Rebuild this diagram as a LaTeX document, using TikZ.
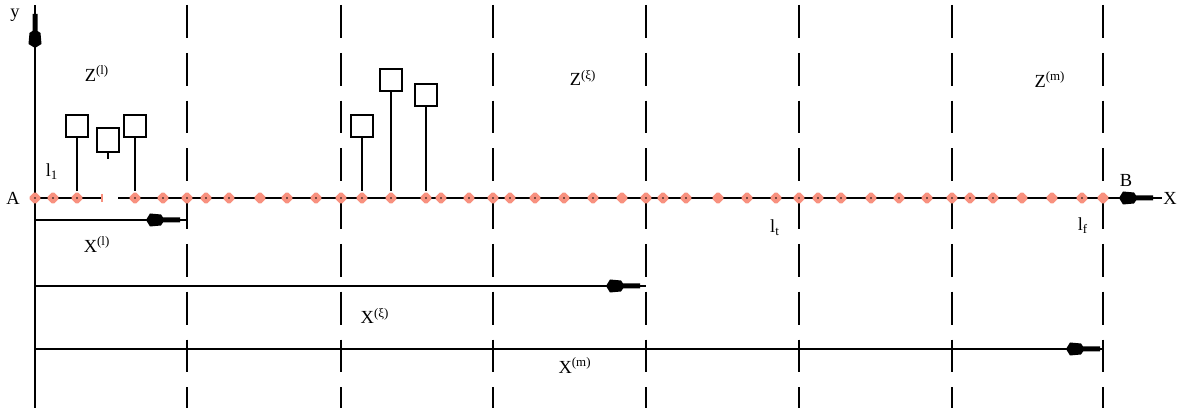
\documentclass[tikz,border=0pt]{standalone}
\usepackage{fontspec}
\setmainfont{Liberation Serif}
\usepackage{xcolor}
\definecolor{ptSalmon}{HTML}{F8917F}
\usetikzlibrary{arrows.meta, positioning, calc, shapes.geometric}
\tikzset{
    gpoint/.style={diamond, fill=ptSalmon, minimum size=7.6pt, inner sep=0pt, rounded corners=1pt},
    gpointdot/.style={gpoint, path picture={\fill[black] (path picture bounding box.center) circle (0.55pt);}},
    stubbox/.style={rectangle, draw, line width=0.9pt, minimum size=12.5pt, inner sep=0pt},
    axisline/.style={line width=0.9pt},
    zoneline/.style={line width=0.9pt, dash pattern=on 18.7pt off 8.5pt},
    lbl/.style={font=\fontsize{10.5}{12}\selectfont, inner sep=1pt},
    bolt/.pic={\fill (0,2.5) -- (-17,2.5) -- (-19,5.5) -- (-30,6.5) -- (-34,0)
                     -- (-30,-6.5) -- (-19,-5.5) -- (-17,-2.5) -- (0,-2.5) -- cycle;},
}

\begin{document}
\begin{tikzpicture}[x=0.02cm, y=-0.02cm]
    \useasboundingbox (0,0) rectangle (1177,408);

    % zone borders
    \foreach \zx in {187,341,493,646,799,952,1103}
        \draw[zoneline] (\zx,5) -- (\zx,408);

    % axes
    \coordinate (A) at (35,198);
    \coordinate (B) at (1103,198);
    \coordinate (yTop) at (35,5);
    \coordinate (yBot) at (35,408);
    \coordinate (xEnd) at (1162,198);
    \coordinate (cutL) at (102,198);
    \coordinate (cutR) at (118,198);
    \draw[axisline] (yBot) -- (yTop);
    \draw[axisline] (A) -- (cutL);
    \draw[axisline] (cutR) -- (B) -- (xEnd);
    \pic[rotate=90] at (35,14) {bolt};
    \pic at (1153,198) {bolt};

    % points on the line
    \foreach \px in {35,53,77,135,163,187,206,229,287,316,341,362,391,426,441,469,
                     493,510,535,564,593,646,663,686,747,776,799,818,841,871,899,
                     927,952,970,993,1082}
        \node[gpointdot] (p\px) at (\px,198) {};
    \foreach \px in {260,622,718,1022,1052,1103}
        \node[gpoint] (p\px) at (\px,198) {};
    \node[fill=ptSalmon, minimum width=1.4pt, minimum height=4.5pt, inner sep=0pt] (pcut) at (102,198) {};

    % boxes
    \node[stubbox] (b1) at (77,126) {};
    \node[stubbox, minimum height=13.6pt] (b2) at (108,140) {};
    \node[stubbox] (b3) at (135,126) {};
    \node[stubbox] (b4) at (362,126) {};
    \node[stubbox] (b5) at (391,80) {};
    \node[stubbox] (b6) at (426,95) {};
    \draw[axisline] (b1) -- (p77);
    \draw[axisline] (b2.south) -- ++(0,6);
    \draw[axisline] (b3) -- (p135);
    \draw[axisline] (b4) -- (p362);
    \draw[axisline] (b5) -- (p391);
    \draw[axisline] (b6) -- (p426);

    % lengths
    \coordinate (xl0) at (35,220);
    \coordinate (xxi0) at (35,286);
    \coordinate (xm0) at (35,349);
    \coordinate (xxi1) at (646,286);
    \coordinate (xm1) at (1103,349);
    \draw[axisline] (xl0) -| (p187);
    \draw[axisline] (xxi0) -- (xxi1);
    \draw[axisline] (xm0) -- (xm1);
    \pic at (180,220) {bolt};
    \pic at (640,286) {bolt};
    \pic at (1100,349) {bolt};

    % labels
    \node[lbl] (ly) at (15,15) {y};
    \node[lbl] (lA) at (13,198) {A};
    \node[lbl] (lB) at (1126,180) {B};
    \node[lbl] (lX) at (1170,198) {X};
    \node[lbl] (Zl) at (97,74) {Z\textsuperscript{(l)}};
    \node[lbl] (Zxi) at (583,78) {Z\textsuperscript{(ξ)}};
    \node[lbl] (Zm) at (1050,80) {Z\textsuperscript{(m)}};
    \node[lbl] (l1) at (52,172) {l\textsubscript{1}};
    \node[lbl] (lt) at (775,228) {l\textsubscript{t}};
    \node[lbl] (lf) at (1083,226) {l\textsubscript{f}};
    \node[lbl] (Xl) at (97,245) {X\textsuperscript{(l)}};
    \node[lbl] (Xxi) at (375,316) {X\textsuperscript{(ξ)}};
    \node[lbl] (Xm) at (575,366) {X\textsuperscript{(m)}};
\end{tikzpicture}
\end{document}
